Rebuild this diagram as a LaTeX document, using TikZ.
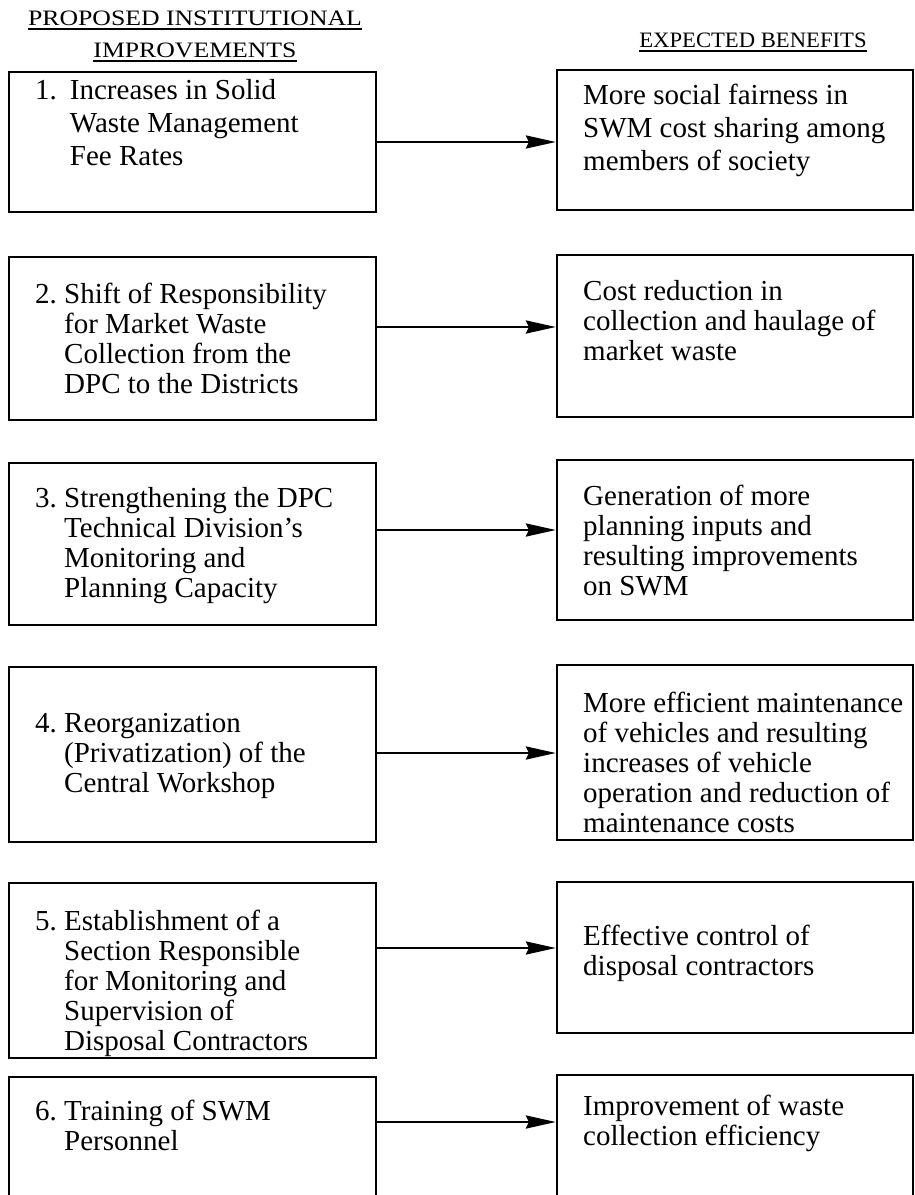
\documentclass[tikz,border=0pt]{standalone}
\usepackage{fontspec}
\setmainfont{Liberation Serif}
\usepackage{graphicx}
\usetikzlibrary{arrows.meta,positioning}

\newcommand{\numitem}[3][0.25em]{\begin{tabular}[t]{@{}l@{\hspace{#1}}l@{}}#2 & #3\end{tabular}}
\newcommand{\benefit}[1]{\begin{tabular}[t]{@{}l@{}}#1\end{tabular}}
\newcommand{\headline}[1]{\setbox0\hbox{#1}\rlap{\rule[-4.5pt]{\wd0}{1.6pt}}\box0}

\begin{document}
\begin{tikzpicture}[x=1pt, y=-1pt,
    lbox/.style={draw, line width=2.2pt, minimum width=367pt, inner sep=0pt},
    rbox/.style={draw, line width=2.2pt, minimum width=356pt, inner sep=0pt},
    boxtext/.style={anchor=base west, inner sep=0pt, font=\fontsize{29}{30}\selectfont},
    headtext/.style={anchor=base, inner sep=0pt, font=\fontsize{22}{32}\selectfont},
    flow/.style={line width=2.6pt, -{Stealth[length=30pt, width=13pt, inset=3pt]}}
  ]
  \useasboundingbox (0,0) rectangle (915,1195);

  % column headings
  \node[headtext] (hleft) at (195,25)
    {\scalebox{1.17}[1]{\begin{tabular}[t]{@{}c@{}}\headline{PROPOSED INSTITUTIONAL}\\ \headline{IMPROVEMENTS}\end{tabular}}};
  \node[headtext] (hright) at (753,47)
    {\scalebox{1.03}[1]{\headline{EXPECTED BENEFITS}}};

  % improvements
  \node[lbox, minimum height=140pt] (l1) at (192.5,142) {};
  \node[lbox, minimum height=163pt] (l2) at (192.5,338.5) {};
  \node[lbox, minimum height=162pt] (l3) at (192.5,544) {};
  \node[lbox, minimum height=175pt] (l4) at (192.5,754.5) {};
  \node[lbox, minimum height=175pt] (l5) at (192.5,970.5) {};
  \node[lbox, minimum height=203pt] (l6) at (192.5,1178.5) {};

  \node[boxtext, font=\fontsize{29}{33}\selectfont] (t1) at (35,99)
    {\numitem[13pt]{1.}{Increases in Solid\\ & Waste Management\\ & Fee Rates}};
  \node[boxtext] (t2) at (35,303)
    {\numitem{2.}{Shift of Responsibility\\ & for Market Waste\\ & Collection from the\\ & DPC to the Districts}};
  \node[boxtext] (t3) at (35,507)
    {\numitem{3.}{Strengthening the DPC\\ & Technical Division's\\ & Monitoring and\\ & Planning Capacity}};
  \node[boxtext] (t4) at (35,732)
    {\numitem{4.}{Reorganization\\ & (Privatization) of the\\ & Central Workshop}};
  \node[boxtext] (t5) at (35,930)
    {\numitem{5.}{Establishment of a\\ & Section Responsible\\ & for Monitoring and\\ & Supervision of\\ & Disposal Contractors}};
  \node[boxtext] (t6) at (35,1120)
    {\numitem{6.}{Training of SWM\\ & Personnel}};

  % benefits
  \node[rbox, minimum height=140pt] (r1) at (735,140) {};
  \node[rbox, minimum height=162pt] (r2) at (735,336) {};
  \node[rbox, minimum height=160pt] (r3) at (735,540) {};
  \node[rbox, minimum height=175pt] (r4) at (735,752.5) {};
  \node[rbox, minimum height=151pt] (r5) at (735,957.5) {};
  \node[rbox, minimum height=205pt] (r6) at (735,1177.5) {};

  \node[boxtext, font=\fontsize{29}{33}\selectfont] (b1) at (583,104)
    {\benefit{More social fairness in\\ SWM cost sharing among\\ members of society}};
  \node[boxtext] (b2) at (583,300)
    {\benefit{Cost reduction in\\ collection and haulage of\\ market waste}};
  \node[boxtext] (b3) at (583,505)
    {\benefit{Generation of more\\ planning inputs and\\ resulting improvements\\ on SWM}};
  \node[boxtext] (b4) at (583,712)
    {\benefit{More efficient maintenance\\ of vehicles and resulting\\ increases of vehicle\\ operation and reduction of\\ maintenance costs}};
  \node[boxtext] (b5) at (583,945)
    {\benefit{Effective control of\\ disposal contractors}};
  \node[boxtext] (b6) at (583,1115)
    {\benefit{Improvement of waste\\ collection efficiency}};

  % arrows
  \draw[flow] (l1.east |- 0,142) -- (r1.west |- 0,142);
  \draw[flow] (l2.east |- 0,327) -- (r2.west |- 0,327);
  \draw[flow] (l3.east |- 0,530) -- (r3.west |- 0,530);
  \draw[flow] (l4.east |- 0,753) -- (r4.west |- 0,753);
  \draw[flow] (l5.east |- 0,948) -- (r5.west |- 0,948);
  \draw[flow] (l6.east |- 0,1122) -- (r6.west |- 0,1122);
\end{tikzpicture}
\end{document}
